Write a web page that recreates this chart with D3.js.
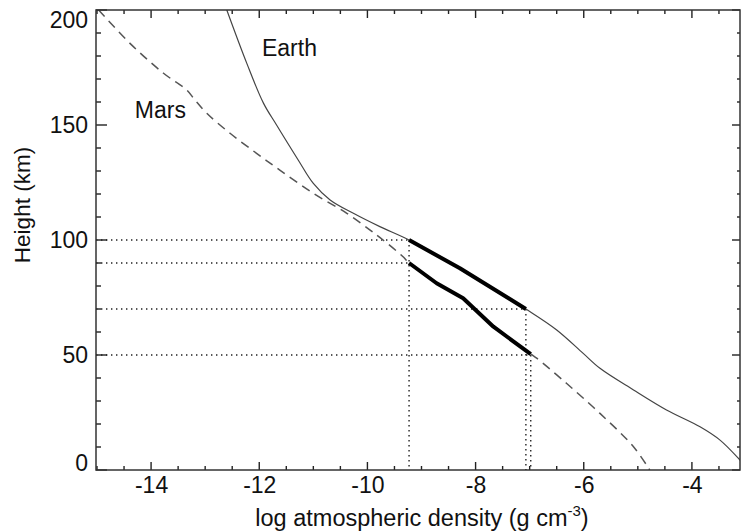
<!DOCTYPE html>
<html>
<head>
<meta charset="utf-8"/>
<script src="https://d3js.org/d3.v7.min.js"></script>
<style>
    body { margin: 0; background: #fff; }
    text { font-family: "Liberation Sans", Arial, sans-serif; fill: #111; }
</style>
</head>
<body>
<svg width="741" height="532"></svg>
<script>
    // data: log density (g cm^-3) vs height (km)
    const earthDensity = [-12.6, -12.23, -11.92, -11.68, -11.28, -11.0, -10.69, -10.26, -9.77, -9.23, -8.29, -7.07, -6.5, -6.01, -5.7, -5.08, -4.47, -3.85, -3.48, -3.11, -2.95];
    const earthHeight  = [200, 176.8, 159.4, 150, 134.8, 124.6, 117.4, 111.6, 105.8, 100, 87.7, 70, 60.9, 50.7, 44.2, 34.8, 26.1, 18.8, 13, 4.3, 0];

    const marsDensity = [-14.97, -14.39, -13.77, -13.34, -13.19, -12.97, -12.54, -12.05, -11.62, -11.0, -10.38, -9.95, -9.71, -9.34, -9.23, -8.72, -8.23, -7.67, -6.98, -6.87, -6.32, -5.7, -5.08, -4.78];
    const marsHeight  = [200, 185.5, 172.5, 165.2, 160.9, 155.1, 146.4, 137.7, 130.4, 120.3, 111.6, 104.3, 100, 92.7, 90, 81.2, 74.7, 62.3, 50.4, 48.6, 37.7, 24.6, 10.1, 0];

    // thick segments
    const earthBandDensity = [-9.23, -8.29, -7.07];
    const earthBandHeight  = [100, 87.7, 70];
    const marsBandDensity = [-9.23, -8.72, -8.23, -7.67, -6.98];
    const marsBandHeight  = [90, 81.2, 74.7, 62.3, 50.4];

    // dotted guide lines: height and the density where each stops
    const guideHeights = [100, 90, 70, 50];
    const guideDensity = [-9.23, -9.23, -7.07, -6.98];

    const xMajor = [-14, -12, -10, -8, -6, -4];
    const yMajor = [0, 50, 100, 150, 200];

    const pLeft = 96, pRight = 740, pTop = 10, pBottom = 470;
    const svg = d3.select("svg");

    const x = d3.scaleLinear().domain([-15, -3]).range([97, 746]);
    const y = d3.scaleLinear().domain([0, 200]).range([pBottom, pTop]);

    const xMinor = d3.range(-15, -3, 0.5).filter(v => !xMajor.includes(v));
    const yMinor = d3.range(0, 201, 10).filter(v => !yMajor.includes(v));

    svg.append("clipPath").attr("id", "plot")
        .append("rect").attr("x", pLeft).attr("y", pTop)
        .attr("width", pRight - pLeft).attr("height", pBottom - pTop);

    const plot = svg.append("g").attr("clip-path", "url(#plot)");

    // tick labels via d3 axes (no tick lines)
    const labelStyle = g => {
        g.select(".domain").remove();
        g.selectAll(".tick line").remove();
        g.selectAll("text").style("font-size", "23px").attr("fill", "#111");
    };
    svg.append("g").attr("transform", "translate(0," + pBottom + ")")
        .call(d3.axisBottom(x).tickValues(xMajor).tickSize(0).tickPadding(7).tickFormat(d => String(d)))
        .call(labelStyle);
    svg.append("g").attr("transform", "translate(" + pLeft + ",0)")
        .call(d3.axisLeft(y).tickValues(yMajor).tickSize(0).tickPadding(8).tickFormat(d => String(d)))
        .call(labelStyle)
        // the end labels sit inside the frame, as in the original
        .selectAll(".tick text").attr("dy", d => d === 200 ? "0.74em" : d === 0 ? "0em" : "0.32em");

    // inward tick marks on all four sides
    const tickG = svg.append("g");
    const xTicks = xMajor.map(v => ({v: v, major: true})).concat(xMinor.map(v => ({v: v, major: false})))
        .filter(d => x(d.v) < pRight);
    const yTicks = yMajor.map(v => ({v: v, major: true})).concat(yMinor.map(v => ({v: v, major: false})));

    const tk = sel => sel.attr("stroke", "#222").attr("stroke-width", 1.4);
    tickG.selectAll("line.xb").data(xTicks).join("line").attr("class", "xb").call(tk)
        .attr("x1", d => x(d.v)).attr("x2", d => x(d.v))
        .attr("y1", pBottom).attr("y2", d => pBottom - (d.major ? 8 : 4));
    tickG.selectAll("line.xt").data(xTicks).join("line").attr("class", "xt").call(tk)
        .attr("x1", d => x(d.v)).attr("x2", d => x(d.v))
        .attr("y1", pTop).attr("y2", d => pTop + (d.major ? 8 : 4));
    tickG.selectAll("line.yl").data(yTicks).join("line").attr("class", "yl").call(tk)
        .attr("y1", d => y(d.v)).attr("y2", d => y(d.v))
        .attr("x1", pLeft).attr("x2", d => pLeft + (d.major ? 11 : 5));
    tickG.selectAll("line.yr").data(yTicks).join("line").attr("class", "yr").call(tk)
        .attr("y1", d => y(d.v)).attr("y2", d => y(d.v))
        .attr("x1", pRight).attr("x2", d => pRight - (d.major ? 8 : 3));

    // frame
    svg.append("rect").attr("x", pLeft).attr("y", pTop)
        .attr("width", pRight - pLeft).attr("height", pBottom - pTop)
        .attr("fill", "none").attr("stroke", "#333").attr("stroke-width", 1.5);

    // dotted guides
    const dot = sel => sel.attr("stroke", "#222").attr("stroke-width", 1.4)
        .attr("stroke-dasharray", "1.4,3.6").attr("fill", "none");
    guideHeights.forEach((h, i) => {
        plot.append("line").call(dot)
            .attr("x1", pLeft).attr("x2", x(guideDensity[i]))
            .attr("y1", y(h)).attr("y2", y(h));
    });
    [0, 2, 3].forEach(i => {
        plot.append("line").call(dot)
            .attr("x1", x(guideDensity[i])).attr("x2", x(guideDensity[i]))
            .attr("y1", y(guideHeights[i])).attr("y2", pBottom);
    });

    const line = d3.line().x(d => x(d[0])).y(d => y(d[1])).curve(d3.curveCatmullRom.alpha(0.5));

    plot.append("path")
        .attr("d", line(d3.zip(marsDensity, marsHeight)))
        .attr("fill", "none").attr("stroke", "#555").attr("stroke-width", 1.5)
        .attr("stroke-dasharray", "9,6");

    plot.append("path")
        .attr("d", line(d3.zip(earthDensity, earthHeight)))
        .attr("fill", "none").attr("stroke", "#444").attr("stroke-width", 1.2);

    const bandLine = d3.line().x(d => x(d[0])).y(d => y(d[1])).curve(d3.curveLinear);
    [[earthBandDensity, earthBandHeight], [marsBandDensity, marsBandHeight]].forEach(b => {
        plot.append("path")
            .attr("d", bandLine(d3.zip(b[0], b[1])))
            .attr("fill", "none").attr("stroke", "#000").attr("stroke-width", 4)
            .attr("stroke-linejoin", "round");
    });

    // labels
    svg.append("text").attr("x", x(-11.95)).attr("y", y(180)).style("font-size", "23px").text("Earth");
    svg.append("text").attr("x", x(-14.3)).attr("y", y(153)).style("font-size", "23px").text("Mars");

    const xt = svg.append("text").attr("x", (pLeft + pRight) / 2 + 4).attr("y", 526)
        .attr("text-anchor", "middle").style("font-size", "23.5px");
    xt.append("tspan").text("log atmospheric density (g cm");
    xt.append("tspan").attr("dy", -10).style("font-size", "15px").text("-3");
    xt.append("tspan").attr("dy", 10).text(")");

    svg.append("text").attr("transform", "translate(30,205) rotate(-90)")
        .attr("text-anchor", "middle").style("font-size", "22.5px").text("Height (km)");
</script>
</body>
</html>
